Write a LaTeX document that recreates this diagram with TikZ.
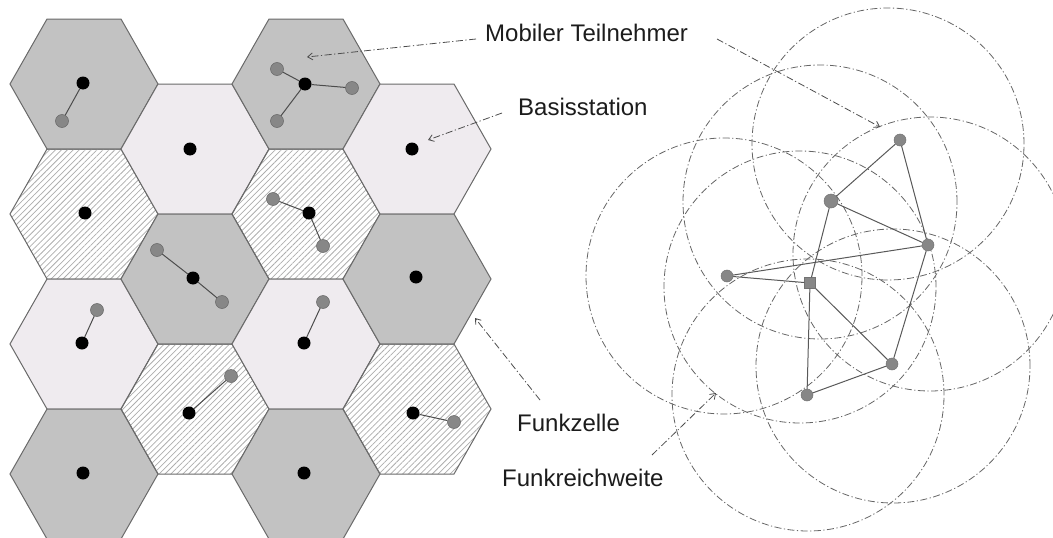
\documentclass[tikz,border=0pt]{standalone}
\usepackage{fontspec}
\setmainfont{Liberation Sans}
\usetikzlibrary{arrows.meta,patterns.meta}
\definecolor{darkcell}{HTML}{C2C2C2}
\definecolor{lightcell}{HTML}{EFEBEF}
\definecolor{hatchcol}{HTML}{ADADAD}
\definecolor{edgecol}{HTML}{6A6A6A}
\definecolor{mobcol}{HTML}{878787}
\definecolor{circcol}{HTML}{666666}
\definecolor{txtcol}{HTML}{1C1C1C}
\newcommand\hexcell[3]{\path[hexcell,#3] (#1+74,#2) -- (#1+37,#2+65) -- (#1-37,#2+65) -- (#1-74,#2) -- (#1-37,#2-65) -- (#1+37,#2-65) -- cycle;}
\tikzset{
  hexcell/.style={draw=edgecol, line width=1pt, line join=miter},
  darkfill/.style={fill=darkcell},
  lightfill/.style={fill=lightcell},
  hatchfill/.style={pattern={Lines[angle=45,distance=4.2pt,line width=0.75pt]}, pattern color=hatchcol},
  bs/.style={circle, fill=black, inner sep=0pt, minimum size=13pt},
  mob/.style={circle, fill=mobcol, draw=black!60, line width=0.5pt, inner sep=0pt, minimum size=13pt},
  bslink/.style={draw=black!70, line width=1pt},
  gnode/.style={circle, fill=mobcol, draw=black!55, line width=0.5pt, inner sep=0pt, minimum size=12pt},
  gsquare/.style={rectangle, fill=mobcol, draw=black!55, line width=0.5pt, inner sep=0pt, minimum size=11pt},
  gedge/.style={draw=black!65, line width=1pt},
  rangecirc/.style={draw=circcol, line width=0.8pt, dash pattern=on 7pt off 2.5pt on 1.2pt off 2.5pt},
  pointer/.style={draw=black!70, line width=0.8pt, dash pattern=on 7pt off 2.5pt on 1.2pt off 2.5pt, -{Straight Barb[length=5pt,width=7pt]}},
  lbl/.style={anchor=west, inner sep=0pt, text=txtcol, font=\fontsize{24}{28}\selectfont}
}
\begin{document}
\begin{tikzpicture}[x=1pt,y=-1pt]
\useasboundingbox (0,0) rectangle (1053,538);
\clip (0,0) rectangle (1053,538);
% hexagonal cells
\hexcell{84}{84}{darkfill}
\hexcell{84}{214}{hatchfill}
\hexcell{84}{344}{lightfill}
\hexcell{84}{474}{darkfill}
\hexcell{195}{149}{lightfill}
\hexcell{195}{279}{darkfill}
\hexcell{195}{409}{hatchfill}
\hexcell{306}{84}{darkfill}
\hexcell{306}{214}{hatchfill}
\hexcell{306}{344}{lightfill}
\hexcell{306}{474}{darkfill}
\hexcell{417}{149}{lightfill}
\hexcell{417}{279}{darkfill}
\hexcell{417}{409}{hatchfill}
% base stations
\node[bs] (b1) at (83,83) {};
\node[bs] (b2) at (190,149) {};
\node[bs] (b3) at (305,84) {};
\node[bs] (b4) at (412,149) {};
\node[bs] (b5) at (85,213) {};
\node[bs] (b6) at (309,213) {};
\node[bs] (b7) at (193,278) {};
\node[bs] (b8) at (416,277) {};
\node[bs] (b9) at (82,343) {};
\node[bs] (b10) at (304,343) {};
\node[bs] (b11) at (189,413) {};
\node[bs] (b12) at (413,413) {};
\node[bs] (b13) at (83,473) {};
\node[bs] (b14) at (304,473) {};
% mobile users
\node[mob] (m1) at (62,121) {};
\node[mob] (m2) at (277,69) {};
\node[mob] (m3) at (352,88) {};
\node[mob] (m4) at (277,121) {};
\node[mob] (m5) at (273,199) {};
\node[mob] (m6) at (323,246) {};
\node[mob] (m7) at (157,250) {};
\node[mob] (m8) at (222,302) {};
\node[mob] (m9) at (97,310) {};
\node[mob] (m10) at (323,302) {};
\node[mob] (m11) at (231,376) {};
\node[mob] (m12) at (454,422) {};
\draw[bslink] (b1) -- (m1);
\draw[bslink] (b3) -- (m2);
\draw[bslink] (b3) -- (m3);
\draw[bslink] (b3) -- (m4);
\draw[bslink] (b6) -- (m5);
\draw[bslink] (b6) -- (m6);
\draw[bslink] (b7) -- (m7);
\draw[bslink] (b7) -- (m8);
\draw[bslink] (b9) -- (m9);
\draw[bslink] (b10) -- (m10);
\draw[bslink] (b11) -- (m11);
\draw[bslink] (b12) -- (m12);
% radio ranges
\draw[rangecirc] (888,144) circle[radius=136pt];
\draw[rangecirc] (820,202) circle[radius=137pt];
\draw[rangecirc] (930,254) circle[radius=137pt];
\draw[rangecirc] (724,276) circle[radius=138pt];
\draw[rangecirc] (800,287) circle[radius=136pt];
\draw[rangecirc] (893,366) circle[radius=137pt];
\draw[rangecirc] (808,395) circle[radius=136pt];
% ad hoc nodes
\node[gnode] (A) at (900,140) {};
\node[gnode, minimum size=14pt] (B) at (831,201) {};
\node[gnode] (C) at (928,245) {};
\node[gnode] (D) at (727,276) {};
\node[gsquare] (E) at (810,283) {};
\node[gnode] (F) at (892,364) {};
\node[gnode] (G) at (807,395) {};
\draw[gedge] (A) -- (B);
\draw[gedge] (A) -- (C);
\draw[gedge] (B) -- (C);
\draw[gedge] (B) -- (E);
\draw[gedge] (D) -- (C);
\draw[gedge] (D) -- (E);
\draw[gedge] (E) -- (G);
\draw[gedge] (E) -- (F);
\draw[gedge] (G) -- (F);
\draw[gedge] (C) -- (F);
% labels
\node[lbl] (tmob) at (485,33) {Mobiler Teilnehmer};
\node[lbl] (tbas) at (518,107) {Basisstation};
\node[lbl] (tzel) at (517,423) {Funkzelle};
\node[lbl] (trw) at (502,478) {Funkreichweite};
% pointer ends
\coordinate (tmobL) at (476,39);
\coordinate (tmobR) at (717,39);
\coordinate (tbasL) at (502,113);
\coordinate (tzelT) at (540,400);
\coordinate (trwT) at (652,455);
\coordinate (pMob) at (307,57);
\coordinate (pAdhoc) at (880,127);
\coordinate (pBase) at (428,140);
\coordinate (pCell) at (475,318);
\coordinate (pRange) at (716,393);
\draw[pointer] (tmobL) -- (pMob);
\draw[pointer] (tmobR) -- (pAdhoc);
\draw[pointer] (tbasL) -- (pBase);
\draw[pointer] (tzelT) -- (pCell);
\draw[pointer] (trwT) -- (pRange);
\end{tikzpicture}
\end{document}
